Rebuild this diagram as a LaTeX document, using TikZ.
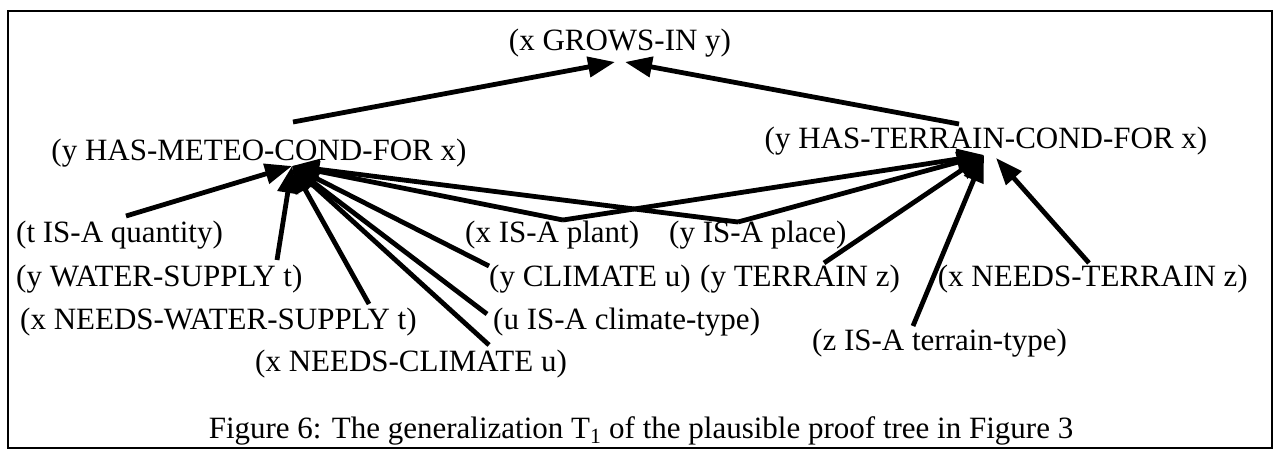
\documentclass[tikz,border=0pt]{standalone}
\usepackage{fontspec}
\setmainfont{Liberation Serif}
\usetikzlibrary{arrows.meta,calc}
\begin{document}
\begin{tikzpicture}[x=1pt,y=-1pt,
  lbl/.style={inner sep=0pt, font=\fontsize{31}{37}\selectfont},
  con/.style={line width=4.8pt, -{Triangle[length=27pt,width=20pt]}},
  frame/.style={line width=2pt}]
\useasboundingbox (0,0) rectangle (1279,450);
\draw[frame] (8,11) rectangle (1272,448);
% nodes
\node[lbl, anchor=base] (grows) at (620,50) {(x GROWS-IN y)};
\node[lbl, anchor=base] (meteo) at (259,160) {(y HAS-METEO-COND-FOR x)};
\node[lbl, anchor=base] (terrain) at (986,148) {(y HAS-TERRAIN-COND-FOR x)};
\node[lbl, anchor=base west] (quant) at (16,242) {(t IS-A quantity)};
\node[lbl, anchor=base west] (plant) at (465,242) {(x IS-A plant)};
\node[lbl, anchor=base west] (place) at (669,242) {(y IS-A place)};
\node[lbl, anchor=base west] (water) at (16,286) {(y WATER-SUPPLY t)};
\node[lbl, anchor=base west] (climate) at (489,286) {(y CLIMATE u)};
\node[lbl, anchor=base west] (yterr) at (700,286) {(y TERRAIN z)};
\node[lbl, anchor=base east] (nterr) at (1248,286) {(x NEEDS-TERRAIN z)};
\node[lbl, anchor=base west] (nwater) at (20,329) {(x NEEDS-WATER-SUPPLY t)};
\node[lbl, anchor=base west] (uclim) at (493,329) {(u IS-A climate-type)};
\node[lbl, anchor=base west] (zterr) at (812,350) {(z IS-A terrain-type)};
\node[lbl, anchor=base west] (nclim) at (255,371) {(x NEEDS-CLIMATE u)};
\node[lbl, anchor=base] (cap) at (641,438) {Figure 6: The generalization T\textsubscript{1} of the plausible proof tree in Figure 3};
% connector end points
\coordinate (gl) at ($(grows.base)+(-5,12)$);
\coordinate (gr) at ($(grows.base)+(5,12)$);
\coordinate (ms) at (293,122);
\coordinate (ts) at (959,124);
\coordinate (mt) at (292,166);
\coordinate (tt) at (984,155);
\coordinate (tt2) at (996,158);
\coordinate (q0) at (126,216);
\coordinate (w0) at (277,260);
\coordinate (nw0) at (369,304);
\coordinate (nc0) at (489,345);
\coordinate (uc0) at (487,314);
\coordinate (cl0) at (489,266);
\coordinate (pl0) at (563,220);
\coordinate (pc0) at (738,222);
\coordinate (yt0) at (824,263);
\coordinate (zt0) at (913,326);
\coordinate (nt0) at (1089,263);
% connectors
\draw[con] (ms) -- (gl);
\draw[con] (ts) -- (gr);
\foreach \s in {q0,w0,nw0,nc0,uc0,cl0,pl0,pc0} \draw[con] (\s) -- (mt);
\foreach \s in {pl0,pc0,yt0,zt0} \draw[con] (\s) -- (tt);
\draw[con] (nt0) -- (tt2);
\end{tikzpicture}
\end{document}
